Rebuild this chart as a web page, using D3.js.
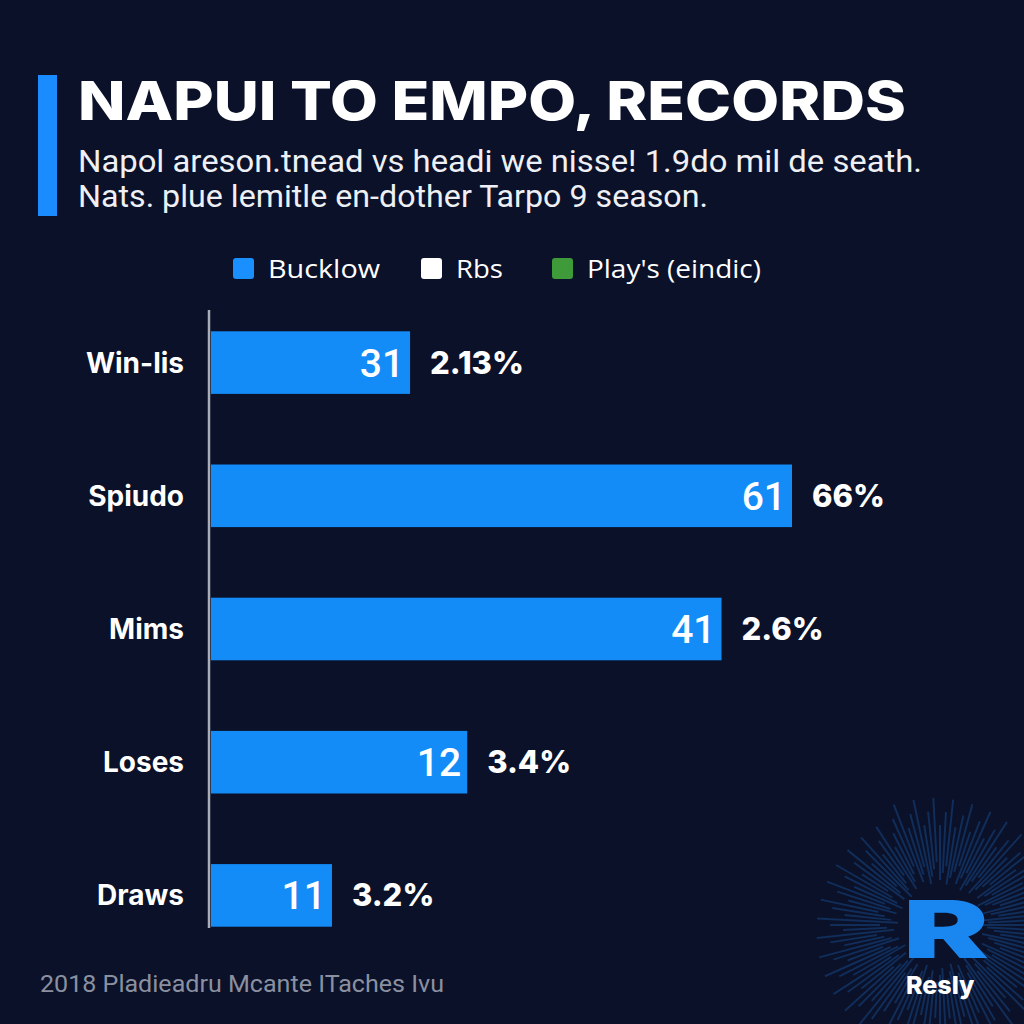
<!DOCTYPE html>
<html><head><meta charset="utf-8">
<script src="https://cdn.jsdelivr.net/npm/d3@7"></script>
<style>html,body{margin:0;padding:0;background:#0a1128;}svg{display:block;}</style>
</head><body>
<script>
const categories = ["Win-lis", "Spiudo", "Mims", "Loses", "Draws"];
const valueLabels = ["31", "61", "41", "12", "11"];
const barLengths = [20.9, 61, 53.6, 26.9, 12.7];
const percentLabels = ["2.13%", "66%", "2.6%", "3.4%", "3.2%"];
const legendNames = ["Bucklow", "Rbs", "Play's (eindic)"];
const legendColors = ["#1a90ff", "#ffffff", "#3f9a3a"];
const titleText = "NAPUI TO EMPO, RECORDS";
const subtitleLines = ["Napol areson.tnead vs headi we nisse! 1.9do mil de seath.", "Nats. plue lemitle en-dother Tarpo 9 season."];
const footerText = "2018 Pladieadru Mcante ITaches Ivu";

const W = 1024, H = 1024;
const svg = d3.select("body").append("svg").attr("width", W).attr("height", H);
svg.append("rect").attr("width", W).attr("height", H).attr("fill", "#0a1128");

// logo burst (decoration)
const burst = svg.append("g").attr("transform", "translate(940,925)");
const angles = d3.range(0, 360, 3);
burst.selectAll("line").data(angles).join("line")
  .attr("x1", (a, i) => Math.cos(a * Math.PI / 180) * (40 + (i * 7) % 25))
  .attr("y1", (a, i) => Math.sin(a * Math.PI / 180) * (40 + (i * 7) % 25))
  .attr("x2", (a, i) => Math.cos(a * Math.PI / 180) * (90 + (i * 13) % 40))
  .attr("y2", (a, i) => Math.sin(a * Math.PI / 180) * (90 + (i * 13) % 40))
  .attr("stroke", "#174482").attr("stroke-width", 2).attr("opacity", 0.55);

// accent bar
svg.append("rect").attr("x", 38).attr("y", 75).attr("width", 19).attr("height", 141).attr("fill", "#1a8cff");

svg.append("text").attr("x", 78).attr("y", 120).text(titleText)
  .attr("fill", "#ffffff").attr("font-family", "Inter, 'Open Sans', sans-serif").attr("font-weight", 800)
  .attr("font-size", 54).attr("textLength", 828).attr("lengthAdjust", "spacingAndGlyphs");

svg.selectAll("text.sub").data(subtitleLines).join("text").attr("class", "sub")
  .attr("x", 78).attr("y", (d, i) => 172 + i * 35).text(d => d)
  .attr("fill", "#eef0f5").attr("font-family", "Roboto, sans-serif").attr("font-weight", 400)
  .attr("font-size", 31).attr("textLength", (d, i) => i === 0 ? 844 : 630).attr("lengthAdjust", "spacingAndGlyphs");

// legend
const legendX = [233, 421, 552];
const legendW = [112, 47, 174];
const lg = svg.append("g");
lg.selectAll("rect").data(legendNames).join("rect")
  .attr("x", (d, i) => legendX[i]).attr("y", 258).attr("width", 21).attr("height", 21).attr("rx", 3)
  .attr("fill", (d, i) => legendColors[i]);
lg.selectAll("text").data(legendNames).join("text")
  .attr("x", (d, i) => legendX[i] + 35).attr("y", 278).text(d => d)
  .attr("fill", "#ffffff").attr("font-family", "'Open Sans', sans-serif").attr("font-size", 26)
  .attr("textLength", (d, i) => legendW[i]).attr("lengthAdjust", "spacingAndGlyphs");

// scales
const x = d3.scaleLinear().domain([0, 61]).range([211, 792]);
const y = d3.scaleBand().domain(categories).range([298, 960]).paddingInner(0.53).paddingOuter(0.25);

svg.append("line").attr("x1", 209).attr("x2", 209).attr("y1", 310).attr("y2", 928)
  .attr("stroke", "#a9adb8").attr("stroke-width", 2.5);

const rows = categories.map((c, i) => ({c, len: barLengths[i], v: valueLabels[i], p: percentLabels[i]}));

svg.selectAll("rect.bar").data(rows).join("rect").attr("class", "bar")
  .attr("x", x(0)).attr("y", d => y(d.c)).attr("width", d => x(d.len) - x(0)).attr("height", y.bandwidth())
  .attr("fill", "#138cf7");

svg.selectAll("text.cat").data(rows).join("text").attr("class", "cat")
  .attr("x", 184).attr("y", d => y(d.c) + y.bandwidth() / 2 + 10).attr("text-anchor", "end").text(d => d.c)
  .attr("fill", "#ffffff").attr("font-family", "Inter, sans-serif").attr("font-weight", 700).attr("font-size", 28);

svg.selectAll("text.val").data(rows).join("text").attr("class", "val")
  .attr("x", d => x(d.len) - 6).attr("y", d => y(d.c) + y.bandwidth() / 2 + 14).attr("text-anchor", "end").text(d => d.v)
  .attr("fill", "#ffffff").attr("font-family", "Roboto, sans-serif").attr("font-weight", 500).attr("font-size", 39);

svg.selectAll("text.pct").data(rows).join("text").attr("class", "pct")
  .attr("x", d => x(d.len) + 20).attr("y", d => y(d.c) + y.bandwidth() / 2 + 11).text(d => d.p)
  .attr("fill", "#ffffff").attr("font-family", "Inter, sans-serif").attr("font-weight", 800).attr("font-size", 31);

svg.append("text").attr("x", 40).attr("y", 992).text(footerText)
  .attr("fill", "#8b90a0").attr("font-family", "Roboto, sans-serif").attr("font-size", 24)
  .attr("textLength", 404).attr("lengthAdjust", "spacingAndGlyphs");

// logo
svg.append("text").attr("x", 903).attr("y", 958).text("R")
  .attr("fill", "#1a86f0").attr("font-family", "Inter, sans-serif").attr("font-weight", 900).attr("font-size", 80)
  .attr("textLength", 86).attr("lengthAdjust", "spacingAndGlyphs");
svg.append("text").attr("x", 906).attr("y", 994).text("Resly")
  .attr("fill", "#ffffff").attr("font-family", "Inter, sans-serif").attr("font-weight", 800).attr("font-size", 25);
</script>
</body></html>
